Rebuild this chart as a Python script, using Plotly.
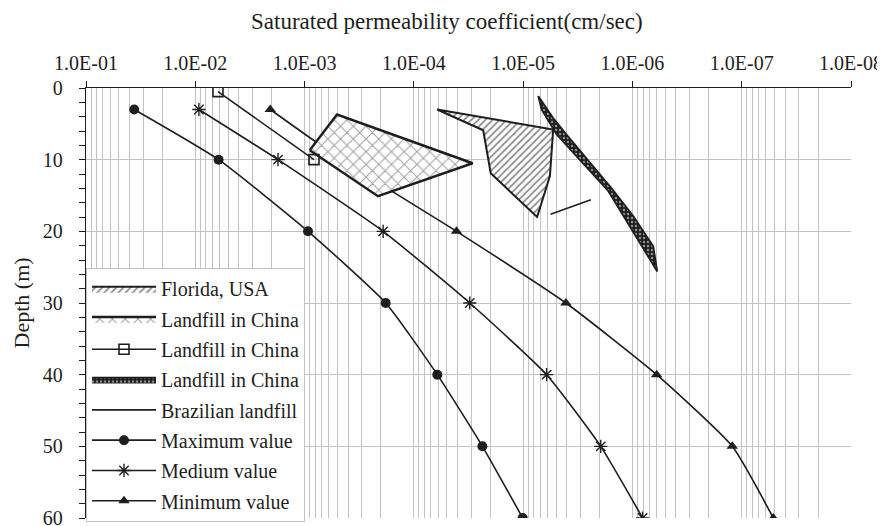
import plotly.graph_objects as go

# ---------------- data ----------------
depth_series = [3, 10, 20, 30, 40, 50, 60]
k_max = [3.62e-2, 6.12e-3, 9.3e-4, 1.81e-4, 6.1e-5, 2.36e-5, 1.01e-5]
k_med = [9.27e-3, 1.75e-3, 1.91e-4, 3.08e-5, 6.1e-6, 1.95e-6, 8.07e-7]
k_min = [2.06e-3, 4.6e-4, 4.07e-5, 4.06e-6, 6.0e-7, 1.22e-7, 5.14e-8]

florida_k = [6.12e-5, 5.31e-6, 5.69e-6, 7.45e-6, 1.98e-5, 2.32e-5, 6.12e-5]
florida_d = [3.0, 5.8, 12.3, 18.0, 11.9, 5.9, 3.0]

china1_k = [8.97e-4, 5.05e-4, 2.9e-5, 2.13e-4, 8.97e-4]
china1_d = [8.7, 3.7, 10.5, 15.1, 8.7]

china2_k = [6.2e-3, 8.2e-4]
china2_d = [0.5, 10.0]

china3_k = [7.28e-6, 5.31e-6, 4.01e-6, 1.55e-6, 9.8e-7, 6.44e-7, 5.93e-7,
            7.85e-7, 1.21e-6, 1.66e-6, 4.94e-6, 6.79e-6, 7.28e-6]
china3_d = [1.1, 4.2, 6.5, 14.0, 17.9, 22.1, 25.6,
            22.6, 17.9, 14.4, 6.5, 3.0, 1.1]

brazil_k = [5.61e-6, 2.40e-6]
brazil_d = [17.6, 15.6]

x_tick_vals = [1e-1, 1e-2, 1e-3, 1e-4, 1e-5, 1e-6, 1e-7, 1e-8]
x_tick_text = ["1.0E-01", "1.0E-02", "1.0E-03", "1.0E-04",
               "1.0E-05", "1.0E-06", "1.0E-07", "1.0E-08"]
y_tick_vals = [0, 10, 20, 30, 40, 50, 60]

# ---------------- figure ----------------
INK = "#1e1e1e"
GRID = "#c3c3c3"
FONT = "Liberation Serif, Times New Roman, serif"

fig = go.Figure()

line_style = dict(color=INK, width=1.6, shape="spline", smoothing=0.5)

fig.add_trace(go.Scatter(
    x=k_max, y=depth_series, mode="lines+markers", name="Maximum value",
    line=line_style, legendrank=6, legendgroup="g6",
    marker=dict(symbol="circle", size=10, color=INK)))
fig.add_trace(go.Scatter(
    x=k_med, y=depth_series, mode="lines+markers", name="Medium value",
    line=line_style, legendrank=7, legendgroup="g7",
    marker=dict(symbol="asterisk-open", size=11, color=INK,
                line=dict(color=INK, width=1.4))))
fig.add_trace(go.Scatter(
    x=k_min, y=depth_series, mode="lines+markers", name="Minimum value",
    line=line_style, legendrank=8, legendgroup="g8",
    marker=dict(symbol="triangle-up", size=10, color=INK)))

fig.add_trace(go.Scatter(
    x=florida_k, y=florida_d, mode="lines", name="Florida, USA",
    fill="toself", fillcolor="white", legendrank=1, legendgroup="g1",
    fillpattern=dict(shape="/", bgcolor="white", fgcolor=INK,
                     size=5, solidity=0.35),
    line=dict(color=INK, width=2)))
fig.add_trace(go.Scatter(
    x=china1_k, y=china1_d, mode="lines", name="Landfill in China",
    fill="toself", fillcolor="white", legendrank=2, legendgroup="g2",
    fillpattern=dict(shape="x", bgcolor="white", fgcolor="#444444",
                     size=9, solidity=0.22),
    line=dict(color=INK, width=2.4)))
fig.add_trace(go.Scatter(
    x=china2_k, y=china2_d, mode="lines+markers", name="Landfill in China",
    line=dict(color=INK, width=1.6), legendrank=3, legendgroup="g3",
    marker=dict(symbol="square-open", size=10, color=INK,
                line=dict(color=INK, width=1.6))))
fig.add_trace(go.Scatter(
    x=china3_k, y=china3_d, mode="lines", name="Landfill in China",
    fill="toself", fillcolor=INK, legendrank=4, legendgroup="g4",
    fillpattern=dict(shape=".", bgcolor=INK, fgcolor="white",
                     size=4, solidity=0.3),
    line=dict(color=INK, width=1.8)))
fig.add_trace(go.Scatter(
    x=brazil_k, y=brazil_d, mode="lines", name="Brazilian landfill",
    line=dict(color=INK, width=1.6), legendrank=5, legendgroup="g5"))

# minor gridlines 2..9 per decade
minor_vals = []
for e in range(-8, -1):
    for m in range(2, 10):
        minor_vals.append(m * 10.0 ** e)

fig.update_xaxes(
    type="log", side="top", range=[-1, -8], automargin=False,
    tickvals=x_tick_vals, ticktext=x_tick_text,
    ticks="outside", ticklen=6, tickwidth=1.2, tickcolor=INK,
    ticklabelstandoff=3,
    showline=True, linecolor=INK, linewidth=1.3,
    showgrid=True, gridcolor=GRID, gridwidth=1.2,
    minor=dict(tickvals=minor_vals, showgrid=True, gridcolor=GRID,
               gridwidth=1, ticks=""),
    tickfont=dict(family=FONT, size=20, color=INK),
    zeroline=False,
)
fig.update_yaxes(
    range=[60, 0], tickvals=y_tick_vals, automargin=False,
    ticks="outside", ticklen=6, tickwidth=1.2, tickcolor=INK,
    ticklabelstandoff=12,
    showline=True, linecolor=INK, linewidth=1.3,
    showgrid=True, gridcolor=GRID, gridwidth=1.2,
    minor=dict(dtick=2, ticks="outside", ticklen=6, tickcolor=INK,
               tickwidth=1.2, showgrid=False),
    tickfont=dict(family=FONT, size=20, color=INK),
    zeroline=False,
)

fig.add_annotation(
    text="Saturated permeability coefficient(cm/sec)",
    xref="paper", yref="paper", x=0.4716, y=1.0, yshift=67,
    xanchor="center", yanchor="middle", showarrow=False,
    font=dict(family=FONT, size=23, color=INK))
fig.add_annotation(
    text="Depth (m)", textangle=-90,
    xref="paper", yref="paper", x=-0.0844, y=0.5,
    xanchor="center", yanchor="middle", showarrow=False,
    font=dict(family=FONT, size=22, color=INK))

# the page body adds an 8px offset; margins are set so the plot area lands
# at x 86..851, y 88..518 in the window
fig.update_layout(
    width=885, height=526,
    margin=dict(l=78, r=42, t=80, b=16, autoexpand=False),
    paper_bgcolor="white", plot_bgcolor="white",
    font=dict(family=FONT, size=20, color=INK),
    showlegend=True,
    legend=dict(
        x=0.0, y=0.581, xanchor="left", yanchor="top",
        bgcolor="white", bordercolor=GRID, borderwidth=1,
        font=dict(family=FONT, size=20, color=INK),
        itemwidth=64, traceorder="grouped", tracegroupgap=1.3,
        entrywidth=160, entrywidthmode="pixels",
    ),
)

fig.write_html("out.html")
